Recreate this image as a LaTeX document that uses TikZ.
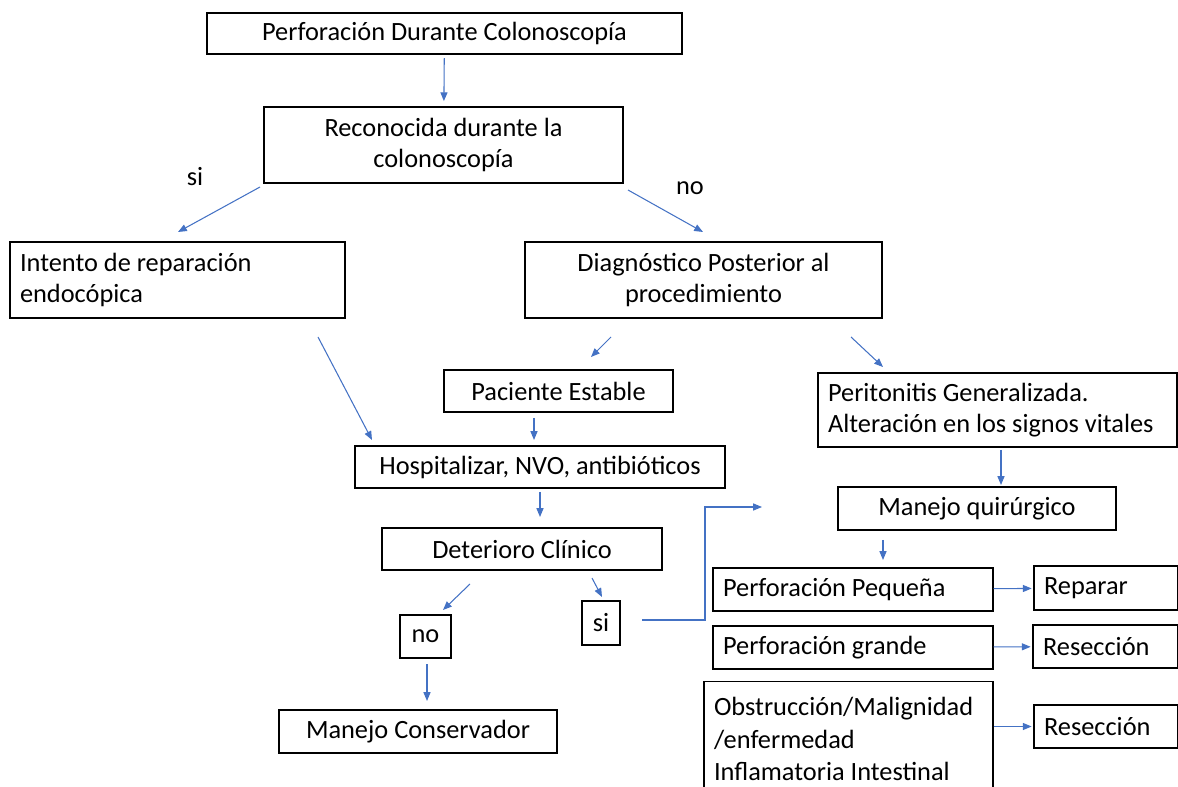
\documentclass[tikz,border=0pt]{standalone}
\usepackage{fontspec}
\setmainfont{Carlito}
\usetikzlibrary{arrows.meta}
\definecolor{azul}{RGB}{68,114,196}

\begin{document}
\begin{tikzpicture}[x=0.02cm, y=-0.02cm,
	font=\fontsize{15}{17.8}\selectfont,
	caja/.style={draw, rectangle, line width=0.7pt, inner sep=0pt, align=center},
	cajaizq/.style={draw, rectangle, line width=0.7pt, inner xsep=0.2cm, inner ysep=0pt, align=flush left},
	fl/.style={-{Triangle[length=5pt, width=4pt]}, azul, line width=0.6pt}]
			\useasboundingbox (0,0) rectangle (1178,787);
			\clip (0,0) rectangle (1178,787);

			\node[caja, minimum width=9.5cm, minimum height=0.82cm] (titulo) at (444.5,33.5) {Perforación Durante Colonoscopía};
			\node[caja, minimum width=7.18cm, minimum height=1.52cm] (rec) at (443.5,145) {Reconocida durante la\\colonoscopía};
			\node[cajaizq, text width=6.3cm, minimum height=1.52cm] (intento) at (177.5,280) {Intento de reparación\\endocópica};
			\node[caja, minimum width=7.14cm, minimum height=1.52cm] (diag) at (703.5,280) {Diagnóstico Posterior al\\procedimiento};
			\node[caja, minimum width=4.58cm, minimum height=0.84cm] (estable) at (558.5,391) {Paciente Estable};
			\node[cajaizq, text width=6.78cm, minimum height=1.48cm] (perit) at (997.5,410) {Peritonitis Generalizada.\\Alteración en los signos vitales};
			\node[caja, minimum width=7.4cm, minimum height=0.84cm] (hosp) at (540,467) {Hospitalizar, NVO, antibióticos};
			\node[caja, minimum width=5.56cm, minimum height=0.86cm] (quir) at (977,508.5) {Manejo quirúrgico};
			\node[caja, minimum width=5.6cm, minimum height=0.84cm] (deter) at (522,549) {Deterioro Clínico};
			\node[caja, minimum width=1.02cm, minimum height=0.86cm] (no) at (425.5,636.5) {no};
			\node[caja, minimum width=0.76cm, minimum height=0.88cm] (si) at (601,623) {si};
			\node[caja, minimum width=5.56cm, minimum height=0.86cm] (conserv) at (418,731.5) {Manejo Conservador};
			\node[cajaizq, text width=5.2cm, minimum height=0.86cm] (pequena) at (853,589.5) {Perforación Pequeña};
			\node[cajaizq, text width=2.48cm, minimum height=0.88cm] (reparar) at (1106,588) {Reparar};
			\node[cajaizq, text width=5.2cm, minimum height=0.86cm] (grande) at (853,647.5) {Perforación grande};
			\node[cajaizq, text width=2.5cm, minimum height=0.86cm] (resec1) at (1105.5,646.5) {Resección};
			\node[cajaizq, text width=5.38cm, minimum height=2.3cm, font=\fontsize{15}{18.5}\selectfont] (obstr) at (848.5,739) {Obstrucción/Malignidad\\/enfermedad\\Inflamatoria Intestinal};
			\node[cajaizq, text width=2.48cm, minimum height=0.86cm] (resec2) at (1106,726.5) {Resección};

			\node (lsi) at (195,177) {si};
			\node (lno) at (690,188) {no};

			\coordinate (recsi) at (260,187);
			\coordinate (intentoin) at (178,232);
			\coordinate (recno) at (628,190);
			\coordinate (diagin) at (703,232);
			\coordinate (intentoout) at (318,337);
			\coordinate (hospin) at (372,440);
			\coordinate (diagest) at (611,337);
			\coordinate (estin) at (591,357);
			\coordinate (diagper) at (851,337);
			\coordinate (perin) at (883,367);
			\coordinate (estout) at (534,418);
			\coordinate (hospin2) at (534,440);
			\coordinate (perout) at (1001,450);
			\coordinate (quirin) at (1001,485);
			\coordinate (hospout) at (540,492);
			\coordinate (deterin) at (540,517);
			\coordinate (deterno) at (470,584);
			\coordinate (noin) at (443,610);
			\coordinate (detersi) at (592,578);
			\coordinate (siin) at (602,597);
			\coordinate (noout) at (427,664);
			\coordinate (conservin) at (427,701);
			\coordinate (siout) at (642,620);
			\coordinate (codo1) at (705,620);
			\coordinate (codo2) at (705,507);
			\coordinate (quirin2) at (762,507);
			\coordinate (quirout) at (883,540);
			\coordinate (pequenain) at (883,560);

			\draw[fl, shorten <=2pt, shorten >=3pt] (titulo) -- (rec);
			\draw[fl] (recsi) -- (intentoin);
			\draw[fl] (recno) -- (diagin);
			\draw[fl] (intentoout) -- (hospin);
			\draw[fl] (diagest) -- (estin);
			\draw[fl] (diagper) -- (perin);
			\draw[fl] (estout) -- (hospin2);
			\draw[fl] (perout) -- (quirin);
			\draw[fl] (hospout) -- (deterin);
			\draw[fl] (deterno) -- (noin);
			\draw[fl] (detersi) -- (siin);
			\draw[fl] (noout) -- (conservin);
			\draw[fl] (siout) -- (codo1) -- (codo2) -- (quirin2);
			\draw[fl] (quirout) -- (pequenain);
			\draw[fl, shorten >=1pt] (pequena) -- (reparar);
			\draw[fl, shorten >=1pt] (grande) -- (resec1);
			\draw[fl, shorten >=1pt] (obstr.east |- resec2) -- (resec2);
		\end{tikzpicture}
\end{document}
